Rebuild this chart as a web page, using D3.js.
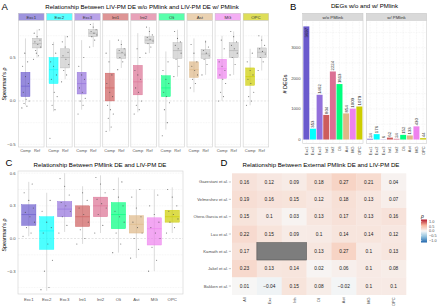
<!DOCTYPE html>
<html>
<head>
<meta charset="utf-8">
<script src="https://cdn.jsdelivr.net/npm/d3@7"></script>
<style>
  body { margin: 0; background: #fff; }
  text { font-family: "Liberation Sans", Arial, sans-serif; }
</style>
</head>
<body>
<svg id="fig" width="440" height="307"></svg>
<script>
// ---- data ----
const cellTypes = ["Exc1", "Exc2", "Exc3", "Int1", "Int2", "Oli", "Ast", "MG", "OPC"];
const cellColors = ["#6a5acd", "#00ffff", "#9370db", "#cd5c5c", "#db7093", "#00ff7f", "#deb887", "#ee82ee", "#cdcd00"];

// panel A: [min, q1, median, q3, max]
const compStatsA = [
  [-0.05, 0.05, 0.17, 0.33, 0.72], [-0.12, 0.2, 0.36, 0.5, 0.68], [-0.1, 0.08, 0.2, 0.33, 0.7],
  [-0.35, 0.0, 0.15, 0.32, 0.7], [-0.13, 0.07, 0.22, 0.41, 0.78], [-0.33, 0.05, 0.15, 0.29, 0.57],
  [0.1, 0.27, 0.36, 0.45, 0.72], [0.0, 0.26, 0.37, 0.48, 0.75], [-0.05, 0.18, 0.28, 0.38, 0.6]
];
const refStatsA = [
  [0.5, 0.61, 0.66, 0.72, 0.82], [0.25, 0.38, 0.5, 0.6, 0.75], [0.62, 0.74, 0.78, 0.82, 0.9],
  [0.38, 0.49, 0.55, 0.6, 0.7], [0.55, 0.66, 0.7, 0.74, 0.85], [0.28, 0.49, 0.58, 0.67, 0.82],
  [0.3, 0.49, 0.54, 0.59, 0.7], [0.3, 0.5, 0.58, 0.67, 0.8], [0.35, 0.5, 0.56, 0.61, 0.75]
];
const compPtsA = [
  [-0.08, -0.06, -0.03, 0.0, 0.02, 0.1, 0.2, 0.28, 0.4, 0.45, 0.55],
  [-0.43, -0.1, -0.05, 0.05, 0.1, 0.25, 0.3, 0.4, 0.45, 0.55, 0.65],
  [-0.15, -0.05, 0.0, 0.03, 0.1, 0.15, 0.25, 0.3, 0.4, 0.5],
  [-0.35, -0.3, -0.2, -0.15, -0.1, -0.05, 0.05, 0.1, 0.2, 0.3, 0.45, 0.55],
  [-0.15, -0.1, -0.05, 0.0, 0.1, 0.15, 0.25, 0.3, 0.35, 0.5, 0.6],
  [-0.4, -0.25, -0.1, -0.02, 0.05, 0.1, 0.2, 0.25, 0.35, 0.45],
  [0.15, 0.2, 0.25, 0.3, 0.35, 0.4, 0.45, 0.55, 0.65],
  [0.0, 0.05, 0.1, 0.2, 0.25, 0.3, 0.35, 0.4, 0.45, 0.6, 0.7],
  [-0.05, 0.0, 0.05, 0.1, 0.2, 0.25, 0.3, 0.35, 0.45, 0.55]
];
const refPtsA = [
  [0.48, 0.52, 0.58, 0.62, 0.65, 0.68, 0.7, 0.74, 0.78, 0.82, 0.55],
  [0.22, 0.3, 0.35, 0.42, 0.48, 0.52, 0.56, 0.62, 0.68, 0.74],
  [0.62, 0.7, 0.74, 0.76, 0.78, 0.8, 0.82, 0.85, 0.88],
  [0.36, 0.45, 0.5, 0.53, 0.56, 0.58, 0.6, 0.65, 0.7],
  [0.55, 0.62, 0.66, 0.69, 0.71, 0.73, 0.76, 0.8, 0.85],
  [0.28, 0.4, 0.48, 0.55, 0.6, 0.64, 0.68, 0.72, 0.8],
  [0.3, 0.42, 0.48, 0.52, 0.55, 0.58, 0.62, 0.68],
  [0.3, 0.42, 0.5, 0.55, 0.6, 0.64, 0.68, 0.74, 0.8],
  [0.35, 0.45, 0.5, 0.54, 0.57, 0.6, 0.64, 0.7, 0.75]
];

// panel B
const degGroups = ["w/o PMlink", "w/ PMlink"];
const degsWithout = [3697, 353, 1462, 804, 2224, 1813, 854, 1009, 1079];
const degsWith = [24, 176, 6, 62, 24, 152, 133, 430, 44];
const degTicks = [0, 1000, 2000, 3000];

// panel C
const statsC = [
  [0.02, 0.12, 0.22, 0.31, 0.52], [-0.48, -0.1, 0.07, 0.2, 0.42], [0.06, 0.2, 0.27, 0.34, 0.6],
  [-0.05, 0.11, 0.2, 0.3, 0.48], [0.05, 0.2, 0.3, 0.38, 0.58], [-0.13, 0.09, 0.22, 0.33, 0.56],
  [-0.18, 0.05, 0.13, 0.21, 0.45], [-0.3, -0.06, 0.09, 0.19, 0.45], [0.05, 0.15, 0.2, 0.26, 0.47]
];
const ptsC = [
  [0.02, 0.05, 0.1, 0.15, 0.2, 0.24, 0.28, 0.35, 0.42, 0.5],
  [-0.47, -0.45, -0.3, -0.2, -0.05, 0.05, 0.1, 0.15, 0.25, 0.35],
  [0.05, 0.12, 0.2, 0.25, 0.3, 0.33, 0.4, 0.48, 0.55],
  [-0.05, 0.0, 0.08, 0.15, 0.22, 0.28, 0.35, 0.42],
  [0.05, 0.12, 0.22, 0.28, 0.32, 0.36, 0.42, 0.5, 0.56],
  [-0.13, -0.05, 0.05, 0.15, 0.2, 0.25, 0.3, 0.38, 0.45, 0.52],
  [-0.18, -0.1, 0.0, 0.05, 0.1, 0.15, 0.2, 0.28, 0.38, 0.45],
  [-0.3, -0.2, -0.08, 0.0, 0.05, 0.1, 0.15, 0.22, 0.3, 0.4],
  [0.05, 0.1, 0.15, 0.18, 0.22, 0.25, 0.3, 0.38, 0.45]
];

// panel D
const studies = ["Gazestani et al.", "Velmeshev et al.", "Otero-Garcia et al.", "Lau et al.", "Kamath et al.", "Jakel et al.", "Bakken et al."];
const broadTypes = ["All", "Exc", "Inh", "Oli", "Ast", "MG", "OPC"];
const rhoGazestani = [0.16, 0.12, 0.09, 0.18, 0.27, 0.21, 0.04];
const rhoVelmeshev = [0.19, 0.16, 0.15, 0.12, 0.18, 0.13, 0.07];
const rhoOtero = [0.15, 0.1, 0.03, 0.13, 0.17, 0.13, 0.16];
const rhoLau = [0.22, 0.15, 0.09, 0.1, 0.14, 0.14, 0.12];
const rhoKamath = [0.17, null, null, 0.13, 0.27, 0.1, 0.13];
const rhoJakel = [0.23, 0.13, 0.14, 0.02, 0.06, 0.1, 0.08];
const rhoBakken = [0.01, -0.04, 0.15, 0.08, -0.02, 0.1, 0.1];
const legendTicks = [1, 0.5, 0, -0.5, -1];

// ---- helpers ----
const svg = d3.select("#fig");
const fmtTick = d3.format(".1f");
const minus = s => String(s).replace("-", "\u2212");

function txt(g, x, y, s, size, anchor, fill) {
  return g.append("text").attr("x", x).attr("y", y)
    .attr("text-anchor", anchor || "start")
    .style("font-size", size + "px")
    .style("fill", fill || "#333")
    .text(s);
}

function drawBox(g, cx, w, st, y, fill, opac, stroke) {
  g.append("line").attr("x1", cx).attr("x2", cx).attr("y1", y(st[0])).attr("y2", y(st[4]))
    .attr("stroke", "#c4c4c4").attr("stroke-width", 0.6);
  g.append("rect").attr("x", cx - w / 2).attr("width", w)
    .attr("y", y(st[3])).attr("height", y(st[1]) - y(st[3]))
    .attr("fill", fill).attr("fill-opacity", opac)
    .attr("stroke", stroke).attr("stroke-width", 0.4);
  g.append("line").attr("x1", cx - w / 2).attr("x2", cx + w / 2)
    .attr("y1", y(st[2])).attr("y2", y(st[2]))
    .attr("stroke", stroke).attr("stroke-width", 0.6);
}

function drawPts(g, cx, w, vals, y) {
  g.selectAll(null).data(vals).enter().append("circle")
    .attr("cx", (d, i) => cx + (((i * 7) % 11) / 10 - 0.5) * w * 0.8)
    .attr("cy", d => y(d))
    .attr("r", 0.55).attr("fill", "#444").attr("fill-opacity", 0.75);
}

// ---- panel A ----
const gA = svg.append("g");
txt(gA, 1.5, 9.5, "A", 9.5, "start", "#000");
txt(gA, 142, 8.5, "Relationship Between LIV-PM DE w/o PMlink and LIV-PM DE w/ PMlink", 6.1, "middle", "#000");

const yA = d3.scaleLinear().domain([-0.53, 0.92]).range([147, 21]);
const fxA = d3.scaleBand().domain(cellTypes).range([18.5, 268.7]).paddingInner(0.09);
const xInA = d3.scalePoint().domain(["Comp", "Ref"]).range([0, fxA.bandwidth()]).padding(0.6);

cellTypes.forEach((ct, i) => {
  const g = gA.append("g").attr("transform", `translate(${fxA(ct)},0)`);
  const bw = fxA.bandwidth();
  g.append("rect").attr("x", 0).attr("y", 13.3).attr("width", bw).attr("height", 7.4)
    .attr("fill", cellColors[i]).attr("fill-opacity", 0.65)
    .attr("stroke", "#bdbdbd").attr("stroke-width", 0.4);
  txt(g, bw / 2, 18.6, ct, 4.3, "middle", "#333");
  g.append("rect").attr("x", 0).attr("y", 20.7).attr("width", bw).attr("height", 147 - 20.7)
    .attr("fill", "#fff").attr("stroke", "#cfcfcf").attr("stroke-width", 0.6);
  [-0.25, 0.25, 0.5, 0.75, -0.5].forEach(v => {
    g.append("line").attr("x1", 0).attr("x2", bw).attr("y1", yA(v)).attr("y2", yA(v))
      .attr("stroke", "#e4e4e4").attr("stroke-width", 0.4).attr("stroke-dasharray", "0.8,0.8");
  });
  g.append("line").attr("x1", 0).attr("x2", bw).attr("y1", yA(0)).attr("y2", yA(0))
    .attr("stroke", "#c8c8c8").attr("stroke-width", 0.5).attr("stroke-dasharray", "2,1.5");
  drawBox(g, xInA("Comp"), 9, compStatsA[i], yA, cellColors[i], 0.7, cellColors[i]);
  drawBox(g, xInA("Ref"), 9, refStatsA[i], yA, "#d6d6d6", 0.9, "#b0b0b0");
  drawPts(g, xInA("Comp"), 9, compPtsA[i], yA);
  drawPts(g, xInA("Ref"), 9, refPtsA[i], yA);
  txt(g, xInA("Comp"), 151.5, "Comp", 4, "middle", "#555");
  txt(g, xInA("Ref"), 151.5, "Ref", 4, "middle", "#555");
});
[-0.5, 0, 0.5].forEach(v => {
  txt(gA, 15.5, yA(v) + 1.5, minus(fmtTick(v)), 4.2, "end", "#4d4d4d");
});
gA.append("text").attr("transform", `translate(6,${84}) rotate(-90)`)
  .attr("text-anchor", "middle").style("font-size", "5.4px").style("fill", "#000")
  .text("Spearman's \u03c1");

// ---- panel B ----
const gB = svg.append("g");
txt(gB, 290, 9.5, "B", 9.5, "start", "#000");
txt(gB, 364.5, 8.3, "DEGs w/o and w/ PMlink", 6.1, "middle", "#000");

const yB = d3.scaleLinear().domain([-130, 3890]).range([143.5, 20.5]);
const fxB = d3.scaleBand().domain(degGroups).range([302.7, 426.7]).paddingInner(0.053);
const xInB = d3.scaleBand().domain(cellTypes).range([0, fxB.bandwidth()]).padding(0.1);

[degsWithout, degsWith].forEach((vals, gi) => {
  const g = gB.append("g").attr("transform", `translate(${fxB(degGroups[gi])},0)`);
  const bw = fxB.bandwidth();
  g.append("rect").attr("x", 0).attr("y", 13.3).attr("width", bw).attr("height", 7.2)
    .attr("fill", "#d9d9d9").attr("stroke", "#bdbdbd").attr("stroke-width", 0.4);
  txt(g, bw / 2, 18.5, degGroups[gi], 4.3, "middle", "#333");
  g.append("rect").attr("x", 0).attr("y", 20.5).attr("width", bw).attr("height", 143.5 - 20.5)
    .attr("fill", "#fff").attr("stroke", "#cfcfcf").attr("stroke-width", 0.6);
  d3.range(0, 4000, 500).forEach(v => {
    g.append("line").attr("x1", 0).attr("x2", bw).attr("y1", yB(v)).attr("y2", yB(v))
      .attr("stroke", "#e2e2e2").attr("stroke-width", 0.4).attr("stroke-dasharray", "0.8,0.8");
  });
  cellTypes.forEach(ct => {
    const cx = xInB(ct) + xInB.bandwidth() / 2;
    g.append("line").attr("x1", cx).attr("x2", cx).attr("y1", 20.5).attr("y2", 143.5)
      .attr("stroke", "#e2e2e2").attr("stroke-width", 0.4).attr("stroke-dasharray", "0.8,0.8");
  });
  g.selectAll(null).data(vals).enter().append("rect")
    .attr("x", (d, i) => xInB(cellTypes[i]))
    .attr("width", xInB.bandwidth())
    .attr("y", d => yB(d))
    .attr("height", d => yB(0) - yB(d))
    .attr("fill", (d, i) => cellColors[i]);
  vals.forEach((v, i) => {
    const cx = xInB(cellTypes[i]) + xInB.bandwidth() / 2 + 1.5;
    const inside = yB(v) - 14 < 20.5;
    const yy = inside ? yB(v) + 1.5 : yB(v) - 1;
    g.append("text").attr("transform", `translate(${cx},${yy}) rotate(-90)`)
      .attr("text-anchor", inside ? "end" : "start")
      .style("font-size", "4.3px").style("fill", "#222").text(v);
    g.append("text").attr("transform", `translate(${cx},${146.5}) rotate(-90)`)
      .attr("text-anchor", "end").style("font-size", "3.9px").style("fill", "#4d4d4d")
      .text(cellTypes[i]);
  });
});
degTicks.forEach(v => {
  txt(gB, 300.5, yB(v) + 1.5, v, 4.2, "end", "#4d4d4d");
});
gB.append("text").attr("transform", "translate(286.5,84) rotate(-90)")
  .attr("text-anchor", "middle").style("font-size", "5.4px").style("fill", "#000")
  .text("# DEGs");

// ---- panel C ----
const gC = svg.append("g");
txt(gC, 5.5, 166, "C", 9.5, "start", "#000");
txt(gC, 100, 167, "Relationship Between PMlink DE and LIV-PM DE", 6.1, "middle", "#000");

const yC = d3.scaleLinear().domain([-0.51, 0.62]).range([294, 171]);
const xC = d3.scaleBand().domain(cellTypes).range([18, 183]).padding(0.2);

gC.append("rect").attr("x", 18).attr("y", 171).attr("width", 165).attr("height", 123)
  .attr("fill", "#fff").attr("stroke", "#cfcfcf").attr("stroke-width", 0.6);
[0.6, 0.3, -0.3, 0.45, 0.15, -0.15, -0.45].forEach(v => {
  gC.append("line").attr("x1", 18).attr("x2", 183).attr("y1", yC(v)).attr("y2", yC(v))
    .attr("stroke", "#e4e4e4").attr("stroke-width", 0.4).attr("stroke-dasharray", "0.8,0.8");
});
gC.append("line").attr("x1", 18).attr("x2", 183).attr("y1", yC(0)).attr("y2", yC(0))
  .attr("stroke", "#c8c8c8").attr("stroke-width", 0.5).attr("stroke-dasharray", "2,1.5");
cellTypes.forEach((ct, i) => {
  const cx = xC(ct) + xC.bandwidth() / 2;
  drawBox(gC, cx, xC.bandwidth(), statsC[i], yC, cellColors[i], 0.7, cellColors[i]);
  drawPts(gC, cx, xC.bandwidth(), ptsC[i], yC);
  txt(gC, cx, 300.5, ct, 4.3, "middle", "#4d4d4d");
});
[-0.3, 0, 0.3, 0.6].forEach(v => {
  txt(gC, 15.5, yC(v) + 1.5, minus(fmtTick(v)), 4.2, "end", "#4d4d4d");
});
gC.append("text").attr("transform", "translate(6,235) rotate(-90)")
  .attr("text-anchor", "middle").style("font-size", "5.4px").style("fill", "#000")
  .text("Spearman's \u03c1");

// ---- panel D ----
const gD = svg.append("g");
txt(gD, 220.5, 166, "D", 9.5, "start", "#000");
txt(gD, 321, 167, "Relationship Between External PMlink DE and LIV-PM DE", 6.1, "middle", "#000");

const rhoRows = [rhoGazestani, rhoVelmeshev, rhoOtero, rhoLau, rhoKamath, rhoJakel, rhoBakken];
const xD = d3.scaleBand().domain(broadTypes).range([232, 406]);
const yD = d3.scaleBand().domain(studies).range([173.3, 294.7]);
const colD = d3.scaleLinear().domain([-1, -0.5, 0, 0.5, 1])
  .range(["#2166ac", "#8fc0dd", "#f7f7f7", "#f7b69b", "#b2182b"]);

rhoRows.forEach((row, r) => {
  row.forEach((v, c) => {
    gD.append("rect").attr("x", xD(broadTypes[c])).attr("y", yD(studies[r]))
      .attr("width", xD.bandwidth() + 0.3).attr("height", yD.bandwidth() + 0.3)
      .attr("fill", v === null ? "#7d7d7d" : colD(v));
    if (v !== null) {
      txt(gD, xD(broadTypes[c]) + xD.bandwidth() / 2, yD(studies[r]) + yD.bandwidth() / 2 + 1.7,
        minus(v), 4.8, "middle", "#222");
    }
  });
  txt(gD, 228, yD(studies[r]) + yD.bandwidth() / 2 + 1.5, studies[r], 4.2, "end", "#4d4d4d");
  gD.append("line").attr("x1", 228.8).attr("x2", 231).attr("y1", yD(studies[r]) + yD.bandwidth() / 2)
    .attr("y2", yD(studies[r]) + yD.bandwidth() / 2).attr("stroke", "#666").attr("stroke-width", 0.4);
});
// NA block outline
gD.append("rect").attr("x", xD("Exc")).attr("y", yD("Kamath et al."))
  .attr("width", xD.bandwidth() * 2).attr("height", yD.bandwidth())
  .attr("fill", "none").attr("stroke", "#555").attr("stroke-width", 0.6);
broadTypes.forEach(bt => {
  const cx = xD(bt) + xD.bandwidth() / 2 + 1.4;
  gD.append("text").attr("transform", `translate(${cx},297.5) rotate(-90)`)
    .attr("text-anchor", "end").style("font-size", "3.9px").style("fill", "#4d4d4d").text(bt);
});

// legend
const yLeg = d3.scaleLinear().domain([-1, 1]).range([240.5, 221.5]);
const grad = svg.append("defs").append("linearGradient").attr("id", "rhoGrad")
  .attr("x1", 0).attr("x2", 0).attr("y1", 1).attr("y2", 0);
d3.range(-1, 1.01, 0.25).forEach(v => {
  grad.append("stop").attr("offset", (v + 1) / 2).attr("stop-color", colD(v));
});
gD.append("text").attr("x", 421).attr("y", 217.5).style("font-size", "5px")
  .style("font-style", "italic").style("fill", "#000").text("\u03c1");
gD.append("rect").attr("x", 421).attr("y", 219.5).attr("width", 6).attr("height", 23)
  .attr("fill", "url(#rhoGrad)");
legendTicks.forEach(v => {
  gD.append("line").attr("x1", 421).attr("x2", 422.2).attr("y1", yLeg(v)).attr("y2", yLeg(v))
    .attr("stroke", "#fff").attr("stroke-width", 0.4);
  txt(gD, 429, yLeg(v) + 1.3, minus(fmtTick(v)), 3.8, "start", "#4d4d4d");
});
</script>
</body>
</html>
